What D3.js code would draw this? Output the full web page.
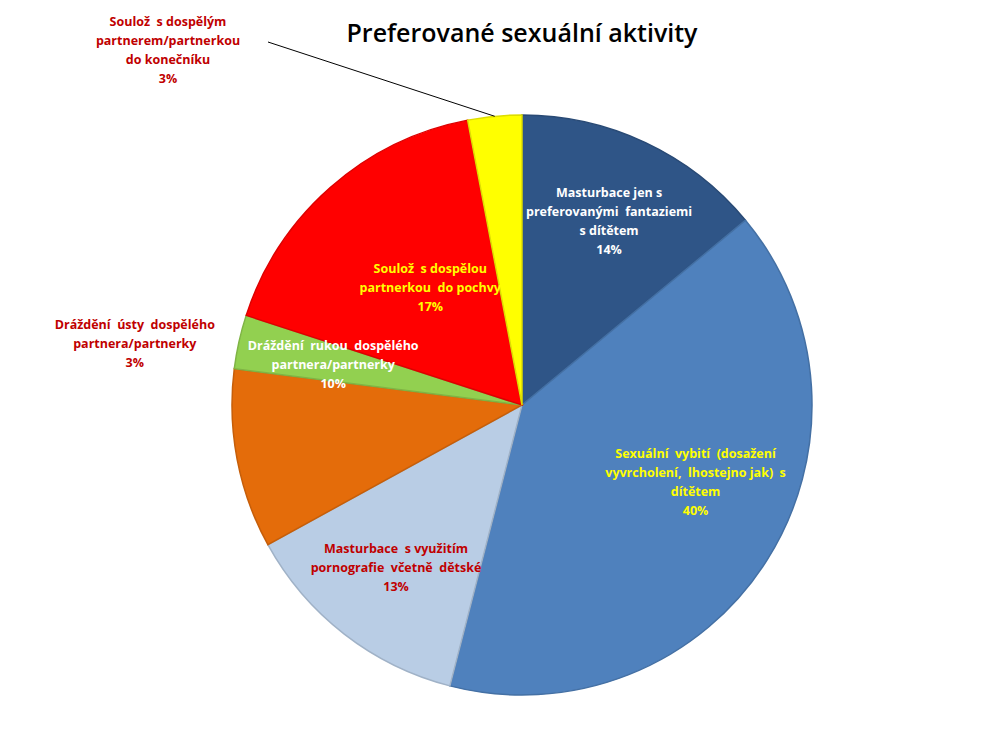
<!DOCTYPE html>
<html><head><meta charset="utf-8">
<script src="https://cdn.jsdelivr.net/npm/d3@7"></script>
<style>body{margin:0;background:#fff}svg{display:block}</style>
</head><body>
<svg id="c" width="992" height="730"></svg>
<script>
var categories = [
  "Masturbace jen s|preferovanými  fantaziemi|s dítětem",
  "Sexuální  vybití  (dosažení|vyvrcholení,  lhostejno jak)  s|dítětem",
  "Masturbace  s využitím|pornografie  včetně  dětské",
  "Dráždění  rukou  dospělého|partnera/partnerky",
  "Dráždění  ústy  dospělého|partnera/partnerky",
  "Soulož  s dospělou|partnerkou  do pochvy",
  "Soulož  s dospělým|partnerem/partnerkou|do konečníku"
];
var values = [14, 40, 13, 10, 3, 17, 3];
var colors = ["#2F5587", "#4F81BD", "#B9CDE5", "#E46C0A", "#92D050", "#FF0000", "#FFFF00"];
var textColors = ["#ffffff", "#FFFF00", "#C00000", "#ffffff", "#C00000", "#FFFF00", "#C00000"];
// label placement: [angle in degrees, distance from centre]
var labelPos = [[25.4, 203], [114, 190], [217.7, 206], [282, 193], [279, 392], [322, 149], [null, null]];

var svg = d3.select("#c"), cx = 522, cy = 405, R = 290;
svg.append("text").attr("x", 522).attr("y", 42).attr("text-anchor", "middle")
  .attr("font-family", "Open Sans, sans-serif").attr("font-size", 25)
  .attr("font-weight", 600).text("Preferované sexuální aktivity");

var pie = d3.pie().sort(null).value(function(d){ return d; });
var arc = d3.arc().innerRadius(0).outerRadius(R);
var arcs = pie(values);
var g = svg.append("g").attr("transform", "translate(" + cx + "," + cy + ")");
g.selectAll("path").data(arcs).enter().append("path")
  .attr("d", arc).attr("fill", function(d, i){ return colors[i]; })
  .attr("stroke", function(d, i){ return d3.color(colors[i]).darker(0.4); })
  .attr("stroke-width", 1.5);

// leader line for the small top slice
var a6 = arcs[6], mid6 = (a6.startAngle + a6.endAngle) / 2;
g.append("line").attr("x1", Math.sin(mid6) * R).attr("y1", -Math.cos(mid6) * R)
  .attr("x2", 268 - cx).attr("y2", 42 - cy).attr("stroke", "#000").attr("stroke-width", 1);

arcs.forEach(function(d, i){
  var x, y;
  if (labelPos[i][0] === null) { x = 168; y = 50; }
  else {
    var a = labelPos[i][0] * Math.PI / 180;
    x = cx + Math.sin(a) * labelPos[i][1];
    y = cy - Math.cos(a) * labelPos[i][1];
  }
  var lines = categories[i].split("|").concat([values[i] + "%"]);
  var t = svg.append("text").attr("text-anchor", "middle")
    .attr("font-family", "Open Sans, sans-serif").attr("font-size", 12.5)
    .attr("font-weight", 700).attr("fill", textColors[i])
    .attr("xml:space", "preserve");
  var lh = 19, y0 = y - (lines.length - 1) * lh / 2 + 4;
  lines.forEach(function(l, k){
    t.append("tspan").attr("x", x).attr("y", y0 + k * lh).text(l);
  });
});
</script>
</body></html>
